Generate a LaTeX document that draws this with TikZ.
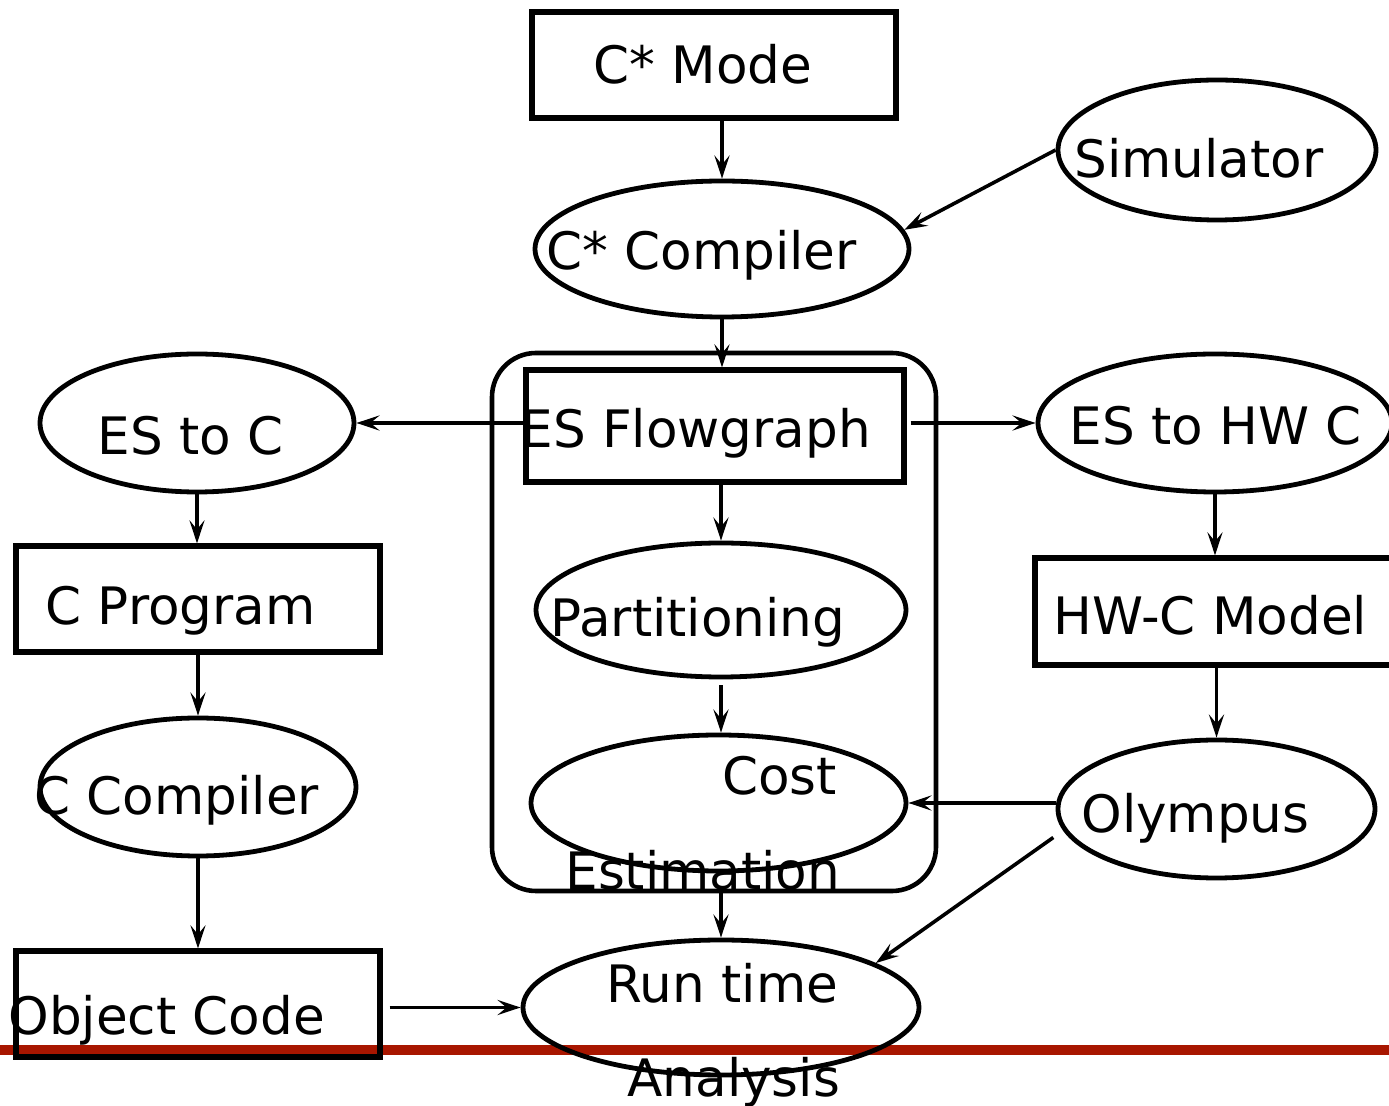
\documentclass[tikz,border=0pt]{standalone}
\usepackage{fontspec}
\setmainfont{DejaVu Sans}
\usetikzlibrary{shapes.geometric,arrows.meta}
\definecolor{redline}{RGB}{168,22,0}
\begin{document}
\begin{tikzpicture}[x=0.5pt,y=-0.5pt,
  box/.style={draw, line width=2.6pt, rectangle, inner sep=0pt},
  oval/.style={draw, line width=2.4pt, ellipse, inner sep=0pt},
  lbl/.style={inner sep=0pt, anchor=base west, font=\fontsize{25.8}{30}\selectfont},
  conn/.style={line width=1.8pt, -{Stealth[length=11.5pt,width=7.5pt,inset=4.5pt]}}]
\useasboundingbox (0,0) rectangle (1389,1106);
% red rule
\coordinate (rl) at (0,1050);
\coordinate (rr) at (1400,1050);
\draw[redline, line width=4.6pt] (rl) -- (rr);

% shapes
\node[box, minimum width=182pt, minimum height=53pt] (mode) at (714,65) {};
\node[oval, minimum width=187pt, minimum height=68pt] (comp) at (722,249) {};
\node[oval, minimum width=159pt, minimum height=70pt] (sim) at (1217,150) {};
\node[draw, line width=2.3pt, rounded corners=22pt, minimum width=222pt, minimum height=269pt] (grp) at (714,622) {};
\node[box, minimum width=189pt, minimum height=56pt] (flow) at (715,426) {};
\node[oval, minimum width=157pt, minimum height=69pt] (esc) at (197,423) {};
\node[oval, minimum width=177pt, minimum height=69pt] (eshw) at (1215,423) {};
\node[box, minimum width=182pt, minimum height=53pt] (cprog) at (198,599) {};
\node[box, minimum width=185pt, minimum height=53.5pt] (hwc) at (1220,611.5) {};
\node[oval, minimum width=185pt, minimum height=67pt] (part) at (721,610) {};
\node[oval, minimum width=187.5pt, minimum height=68pt] (cost) at (718.5,803) {};
\node[oval, minimum width=158.5pt, minimum height=69pt] (olym) at (1216.5,809) {};
\node[oval, minimum width=158pt, minimum height=69pt] (ccomp) at (198,787) {};
\node[box, minimum width=182pt, minimum height=53pt] (obj) at (198,1004) {};
\node[oval, minimum width=198pt, minimum height=67.5pt] (rt) at (721,1007.5) {};

% labels
\node[lbl] (tmode) at (593,84) {C* Mode};
\node[lbl] (tcomp) at (546,270) {C* Compiler};
\node[lbl] (tsim) at (1074,178) {Simulator};
\node[lbl] (tflow) at (520,448) {ES Flowgraph};
\node[lbl] (tesc) at (97,455) {ES to C};
\node[lbl] (teshw) at (1069,445) {ES to HW C};
\node[lbl] (tcprog) at (45,625) {C Program};
\node[lbl] (thwc) at (1053,635) {HW-C Model};
\node[lbl] (tpart) at (550,637) {Partitioning};
\node[lbl] (tcost) at (722,795) {Cost};
\node[lbl] (test) at (565,890) {Estimation};
\node[lbl] (tolym) at (1081,833) {Olympus};
\node[lbl] (tccomp) at (34,815) {C Compiler};
\node[lbl] (tobj) at (8,1035) {Object Code};
\node[lbl] (trt) at (606,1003) {Run time};
\node[lbl] (tan) at (627,1097) {Analysis};

% connectors
\draw[conn] (mode.south -| comp.north) -- (comp.north);
\draw[conn] (sim.west) -- (comp.6);
\draw[conn] (comp.south) -- (comp.south |- flow.north);
\draw[conn] (flow.west |- esc.east) -- (esc.east);
\draw[conn] ([xshift=2pt]flow.east |- eshw.west) -- (eshw.west);
\draw[conn] (part.north |- flow.south) -- (part.north);
\draw[conn, shorten <=3pt] (part.south) -- (part.south |- cost.north);
\draw[conn] (olym.west |- cost.east) -- (cost.east);
\draw[conn, shorten <=6pt] (olym.188) -- (rt.16);
\draw[conn, shorten <=7pt] (cost.south -| rt.north) -- (rt.north);
\draw[conn] (esc.south) -- (esc.south |- cprog.north);
\draw[conn] (cprog.south -| ccomp.north) -- (ccomp.north);
\draw[conn] (ccomp.south) -- (ccomp.south |- obj.north);
\coordinate (objout) at ([xshift=3.5pt]obj.east);
\draw[conn] (objout |- rt.west) -- (rt.west);
\draw[conn] (eshw.south) -- (eshw.south |- hwc.north);
\draw[conn] (hwc.south -| olym.north) -- (olym.north);
\end{tikzpicture}
\end{document}
